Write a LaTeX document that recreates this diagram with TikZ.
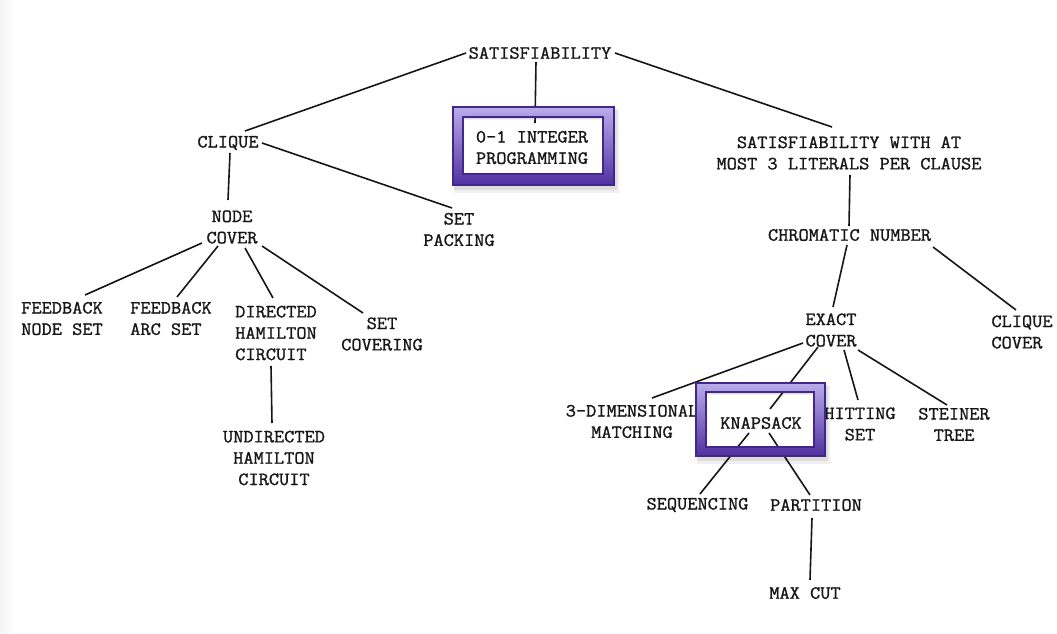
\documentclass[tikz,border=0pt]{standalone}
\usepackage{fontspec}
\newfontfamily\tw{Latin Modern Mono}[FakeStretch=1.06, FakeBold=1.2]
\definecolor{frtop}{RGB}{186,172,234}
\definecolor{frbot}{RGB}{80,48,160}
\definecolor{frline}{RGB}{66,38,138}
\definecolor{ink}{RGB}{22,22,22}
\tikzset{
  lbl/.style={font=\tw\fontsize{14}{16}\selectfont, text=ink, inner sep=0pt, align=center},
  lbll/.style={lbl, align=left},
  edge/.style={draw=ink, line width=1.2pt},
}
\begin{document}
\begin{tikzpicture}[x=0.75pt,y=-0.75pt]
\useasboundingbox (0,0) rectangle (1057,634);
\fill[white] (0,0) rectangle (1057,634);
\shade[left color=black!4, right color=white] (0,0) rectangle (14,634);

% nodes
\node[lbl] (sat) at (540,53) {SATISFIABILITY};
\node[lbl] (clique) at (228,143) {CLIQUE};
\node[lbl] (ilp) at (532,147.5) {0-1 INTEGER\\PROGRAMMING};
\node[lbl] (sat3) at (849,153) {SATISFIABILITY WITH AT\\MOST 3 LITERALS PER CLAUSE};
\node[lbl] (nc) at (232,227) {NODE\\COVER};
\node[lbl] (sp) at (459,229.5) {SET\\PACKING};
\node[lbl] (cn) at (849.5,235) {CHROMATIC NUMBER};
\node[lbll] (fns) at (62,318.5) {FEEDBACK\\NODE SET};
\node[lbll] (fas) at (171,318.5) {FEEDBACK\\ARC SET};
\node[lbll] (dhc) at (276,333) {DIRECTED\\HAMILTON\\CIRCUIT};
\node[lbl] (sc) at (382,334) {SET\\COVERING};
\node[lbl] (ec) at (831,330) {EXACT\\COVER};
\node[lbll] (cc) at (1022,332) {CLIQUE\\COVER};
\node[lbl] (tdm) at (632,421.5) {3-DIMENSIONAL\\MATCHING};
\node[lbl] (kn) at (761,423) {KNAPSACK};
\node[lbl] (hs) at (860,424) {HITTING\\SET};
\node[lbl] (st) at (954,424.5) {STEINER\\TREE};
\node[lbl] (uhc) at (274,458) {UNDIRECTED\\HAMILTON\\CIRCUIT};
\node[lbl] (seq) at (697.5,505) {SEQUENCING};
\node[lbl] (part) at (816,505) {PARTITION};
\node[lbl] (mc) at (805,593) {MAX CUT};

% connectors
\draw[edge] ([shift={(-74,0)}]sat.center) -- ([shift={(17,-12)}]clique.center);
\draw[edge] ([shift={(-4,9)}]sat.center) -- ([shift={(3,-24.5)}]ilp.center);
\draw[edge] ([shift={(75,0)}]sat.center) -- ([shift={(-17,-26)}]sat3.center);
\draw[edge] ([shift={(2,10)}]clique.center) -- ([shift={(-4,-27)}]nc.center);
\draw[edge] ([shift={(34,0)}]clique.center) -- ([shift={(-7,-21.5)}]sp.center);
\draw[edge] ([shift={(1,22)}]sat3.center) -- ([shift={(-0.5,-9)}]cn.center);
\draw[edge] ([shift={(-30,16)}]nc.center) -- ([shift={(23,-23.5)}]fns.center);
\draw[edge] ([shift={(-14,19)}]nc.center) -- ([shift={(6,-21.5)}]fas.center);
\draw[edge] ([shift={(13,21)}]nc.center) -- ([shift={(-3,-35)}]dhc.center);
\draw[edge] ([shift={(30,19)}]nc.center) -- ([shift={(-19,-21)}]sc.center);
\draw[edge] ([shift={(-5,33)}]dhc.center) -- ([shift={(-2,-35)}]uhc.center);
\draw[edge] ([shift={(-2.5,10)}]cn.center) -- ([shift={(2,-23)}]ec.center);
\draw[edge] ([shift={(83.5,12)}]cn.center) -- ([shift={(-6,-22)}]cc.center);
\draw[edge] ([shift={(-28,13)}]ec.center) -- ([shift={(20,-23.5)}]tdm.center);
\draw[edge] ([shift={(-13,17)}]ec.center) -- ([shift={(9,-14)}]kn.center);
\draw[edge] ([shift={(13,20)}]ec.center) -- ([shift={(-2,-24)}]hs.center);
\draw[edge] ([shift={(27,20)}]ec.center) -- ([shift={(-7,-19.5)}]st.center);
\draw[edge] ([shift={(-12,10)}]kn.center) -- ([shift={(2.5,-11)}]seq.center);
\draw[edge] ([shift={(8,10)}]kn.center) -- ([shift={(-6,-10)}]part.center);
\draw[edge] ([shift={(-4,13)}]part.center) -- ([shift={(5,-13)}]mc.center);

% highlight frames (shadow, shaded band, outlines)
\foreach \xa/\ya/\xb/\yb/\xc/\yc/\xd/\yd in {453/107/614/185/463/117/603/174, 696/383/825/456/706/392/814/447}{
  \fill[black, opacity=0.06, even odd rule] (\xa+1,\ya+3) rectangle (\xb+5,\yb+8) (\xc+1,\yc+3) rectangle (\xd-1,\yd+1);
  \fill[black, opacity=0.08, even odd rule] (\xa+1,\ya+2) rectangle (\xb+3,\yb+5) (\xc+1,\yc+2) rectangle (\xd-1,\yd);
  \shade[top color=frtop, bottom color=frbot, even odd rule] (\xa,\ya) rectangle (\xb,\yb) (\xc,\yc) rectangle (\xd,\yd);
  \draw[frline, line width=0.8pt] (\xa,\ya) rectangle (\xb,\yb);
  \draw[frline, line width=1pt] (\xc,\yc) rectangle (\xd,\yd);
}
\end{tikzpicture}
\end{document}
